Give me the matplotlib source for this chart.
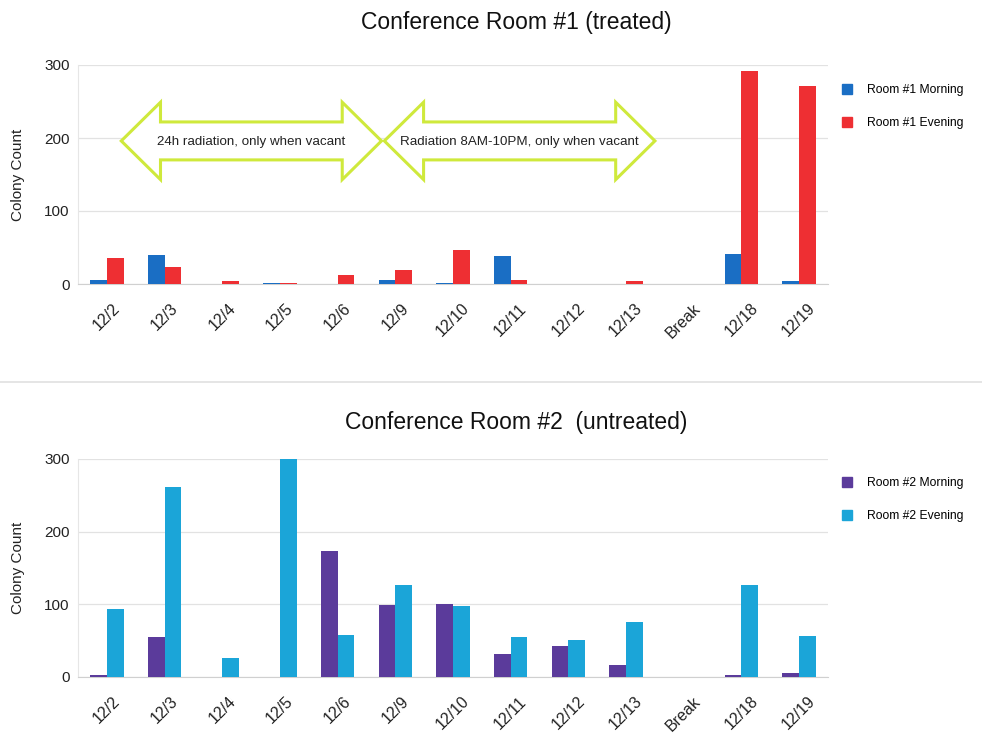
import matplotlib
matplotlib.use("Agg")
import matplotlib.pyplot as plt
import numpy as np
from matplotlib.patches import Polygon
from matplotlib.lines import Line2D

categories = ["12/2", "12/3", "12/4", "12/5", "12/6", "12/9", "12/10",
              "12/11", "12/12", "12/13", "Break", "12/18", "12/19"]
room1_morning = [5, 40, 0, 2, 0, 5, 1, 39, 0, 0, 0, 41, 4]
room1_evening = [35, 23, 4, 2, 13, 19, 47, 6, 0, 4, 0, 292, 271]
room2_morning = [3, 55, 0, 0, 174, 99, 100, 31, 43, 16, 0, 3, 5]
room2_evening = [94, 261, 26, 300, 58, 126, 98, 55, 51, 76, 0, 126, 57]
yticks = [0, 100, 200, 300]

arrow_notes = [
    (0.25, 4.76, "24h radiation, only when vacant"),
    (4.81, 9.50, "Radiation 8AM-10PM, only when vacant"),
]

title_font = ["Liberation Sans", "DejaVu Sans"]
body_font = ["Liberation Sans", "DejaVu Sans"]

fig = plt.figure(figsize=(9.82, 7.35), dpi=100)
fig.patch.set_facecolor("white")

ax1 = fig.add_axes([78 / 982, 1 - 284 / 735, 750 / 982, 219 / 735])
ax2 = fig.add_axes([78 / 982, 1 - 677 / 735, 750 / 982, 218 / 735])

x = np.arange(len(categories))
w = 0.29


def style(ax, title, title_y, c_m, c_e, lab_m, lab_e, data_m, data_e, leg_y):
    ax.bar(x - w / 2, data_m, width=w, color=c_m, zorder=3)
    ax.bar(x + w / 2, data_e, width=w, color=c_e, zorder=3)
    ax.set_xlim(-0.5, len(categories) - 0.5)
    ax.set_ylim(0, 300)
    ax.set_yticks(yticks)
    ax.set_yticklabels([str(t) for t in yticks], fontsize=11,
                       family=body_font, color="#222222")
    ax.set_xticks(x)
    ax.set_xticklabels(categories, rotation=45, ha="center",
                       fontsize=11.5, family=body_font, color="#222222")
    ax.tick_params(length=0, pad=6)
    ax.tick_params(axis="x", pad=12)
    ax.yaxis.grid(True, color="#e2e2e2", linewidth=0.9, zorder=0)
    ax.set_axisbelow(True)
    for s in ["top", "right"]:
        ax.spines[s].set_visible(False)
    ax.spines["left"].set_color("#e6e6e6")
    ax.spines["bottom"].set_color("#d0d0d0")
    ax.set_ylabel("Colony Count", fontsize=11, family=body_font,
                  color="#222222", labelpad=14)
    fig.text(516 / 982, 1 - title_y / 735, title, ha="center", va="center",
             fontsize=16.5, family=title_font, color="#111111")
    handles = [Line2D([], [], marker="s", linestyle="none", color=c_m,
                      markersize=7),
               Line2D([], [], marker="s", linestyle="none", color=c_e,
                      markersize=7)]
    fig.legend(handles, [lab_m, lab_e], loc="upper left",
               bbox_to_anchor=(830 / 982, 1 - leg_y / 735), frameon=False,
               prop={"family": body_font, "size": 8.7}, labelspacing=1.75,
               handletextpad=1.2, handlelength=1.0)


style(ax1, "Conference Room #1 (treated)", 23, "#1a6ec4", "#ee2f33",
      "Room #1 Morning", "Room #1 Evening", room1_morning, room1_evening, 73)
style(ax2, "Conference Room #2  (untreated)", 422, "#5b3b9b", "#1ba5d8",
      "Room #2 Morning", "Room #2 Evening", room2_morning, room2_evening, 466)

# double-headed annotation arrows in data coordinates
yc, body, head, hl = 196, 26, 53, 0.68
for x0, x1, txt in arrow_notes:
    pts = [(x0, yc), (x0 + hl, yc + head), (x0 + hl, yc + body),
           (x1 - hl, yc + body), (x1 - hl, yc + head), (x1, yc),
           (x1 - hl, yc - head), (x1 - hl, yc - body),
           (x0 + hl, yc - body), (x0 + hl, yc - head)]
    ax1.add_patch(Polygon(pts, closed=True, facecolor="white",
                          edgecolor="#cfe93c", linewidth=2.2, zorder=4))
    ax1.text((x0 + x1) / 2, yc - 2, txt, ha="center", va="center",
             fontsize=9.6, family=body_font, color="#222222", zorder=5)

# separator line between the two panels
fig.add_artist(Line2D([0, 1], [1 - 382 / 735, 1 - 382 / 735],
                      color="#e0e0e0", linewidth=1.2))

fig.savefig("out.png", dpi=100, facecolor="white")
